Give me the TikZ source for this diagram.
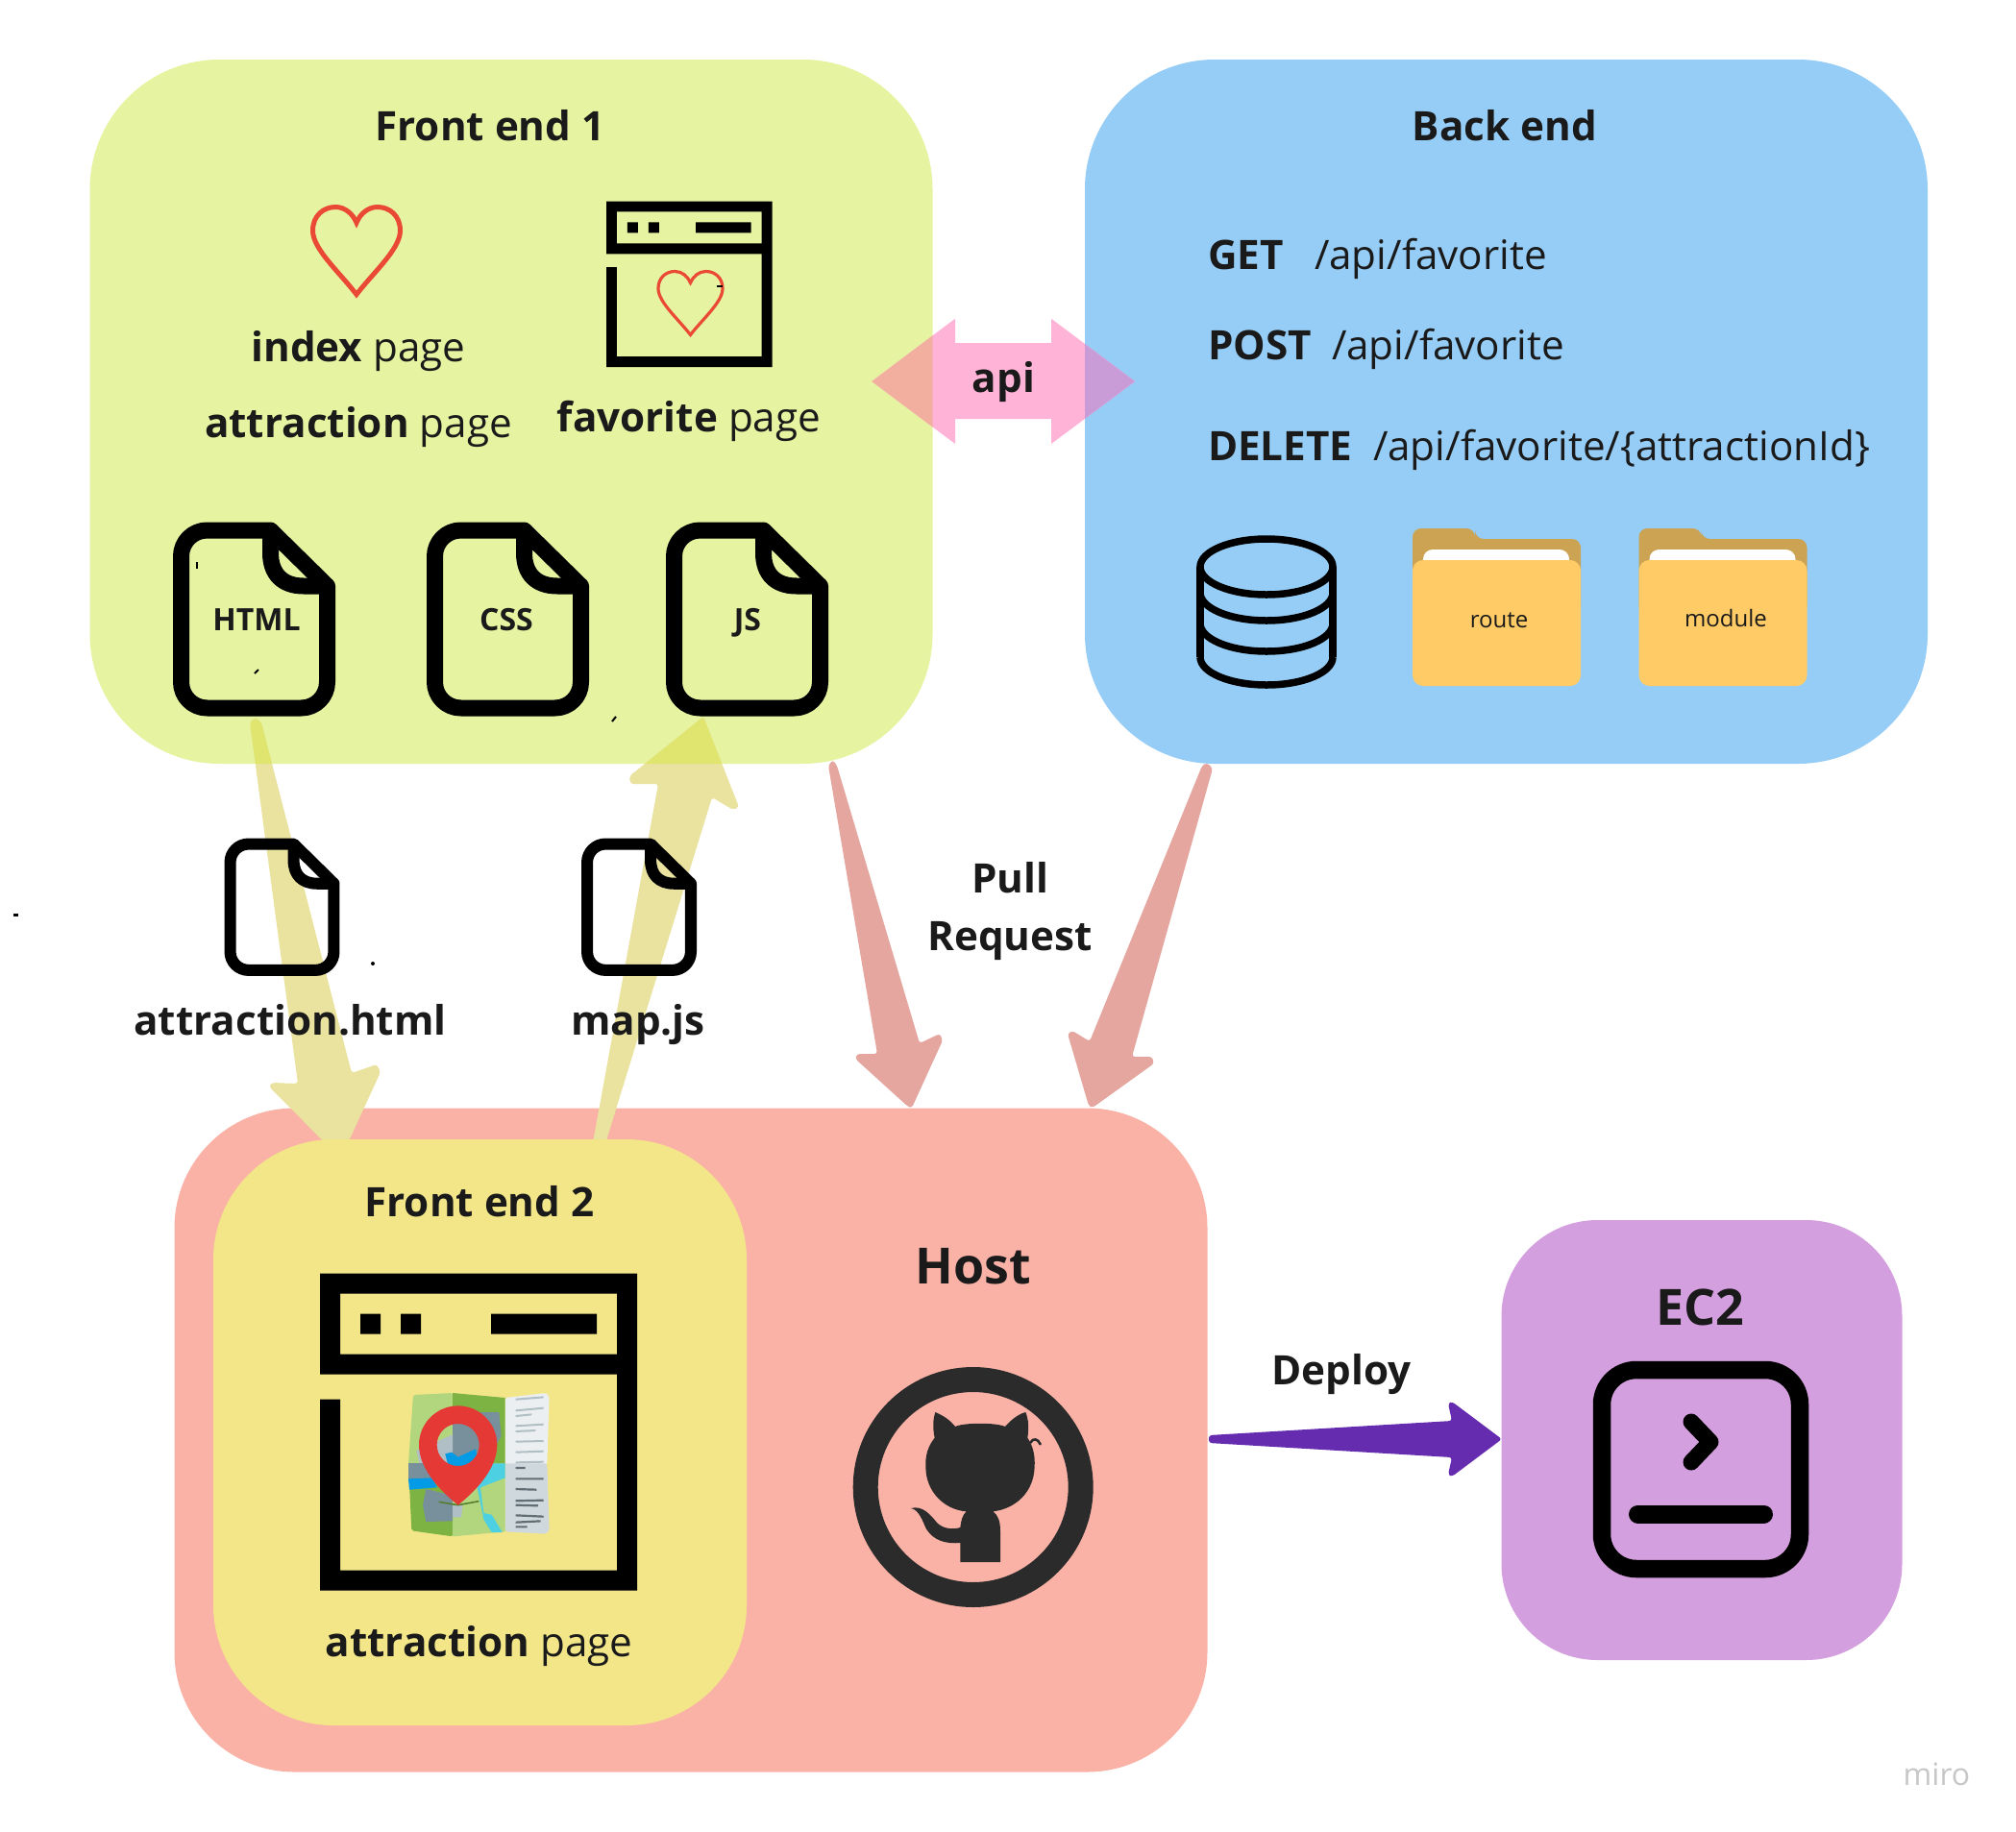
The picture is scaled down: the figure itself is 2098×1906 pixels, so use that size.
\documentclass[tikz,border=0pt]{standalone}
\usepackage{fontspec}
\setmainfont{Open Sans}
\definecolor{boxgreen}{HTML}{E6F3A0}
\definecolor{boxblue}{HTML}{96CDF6}
\definecolor{boxhost}{HTML}{FAB2A6}
\definecolor{boxfront}{HTML}{F2E689}
\definecolor{boxec}{HTML}{D49FDE}
\definecolor{khaki}{HTML}{EAE39F}
\definecolor{khakigreen}{HTML}{DFE56F}
\definecolor{salmon}{HTML}{E5A6A0}
\definecolor{apipink}{HTML}{FFB3D7}
\definecolor{apigreen}{HTML}{F2AFA0}
\definecolor{apiblue}{HTML}{C99CD8}
\definecolor{deploypurple}{HTML}{652CB0}
\definecolor{inkdark}{HTML}{1A1A1A}
\definecolor{heartred}{HTML}{EA4A35}
\definecolor{pinred}{HTML}{E53935}
\definecolor{gitdark}{HTML}{2B2B2B}
\definecolor{folderback}{HTML}{CBA352}
\definecolor{folderfront}{HTML}{FFCB66}
\definecolor{mapl}{HTML}{B2D67E}
\definecolor{mapd}{HTML}{7CB342}
\definecolor{mapg}{HTML}{78909C}
\definecolor{maplg}{HTML}{B0BEC5}
\definecolor{mapb}{HTML}{039BE5}
\definecolor{mapc}{HTML}{4DD0E1}
\definecolor{mapp}{HTML}{ECEFF1}
\definecolor{mapq}{HTML}{CFD8DC}
\definecolor{mapt}{HTML}{B0BEC5}
\definecolor{maps}{HTML}{616E75}
\tikzset{
  panel/.style={inner sep=0pt,outer sep=0pt,draw=none},
  label/.style={inner sep=0pt,outer sep=0pt,text=inkdark,anchor=base,font=\fontsize{42.2}{50}\selectfont},
  labelw/.style={label,anchor=base west},
  small/.style={label,font=\fontsize{32}{38}\selectfont},
  tiny/.style={label,font=\fontsize{24}{30}\selectfont},
  big/.style={label,font=\fontsize{52}{62}\selectfont},
  blockarrow/.style={rounded corners=3pt}
}
\newcommand{\windowicon}[3]{%
  \begin{scope}[shift={(#1,#2)},scale=#3]
    \fill[black,even odd rule] (0,0)--(330,0)--(330,330)--(0,330)--(0,131)--(21,131)--(21,309)--(309,309)--(309,105)--(0,105)--cycle
      (21,21)--(309,21)--(309,84)--(21,84)--cycle;
    \fill[black] (42,42) rectangle (63,63) (84,42) rectangle (105,63) (178,42) rectangle (288,63);
  \end{scope}}
\newcommand{\hearticon}[5]{%
  \begin{scope}[shift={(#1,#2)},xscale=#3,yscale=#4]
    \draw[heartred,line width=#5pt,line join=miter]
      (0.5,1) .. controls (0.3,0.74) and (0,0.48) .. (0,0.27)
      .. controls (0,0.1) and (0.12,0) .. (0.26,0)
      .. controls (0.37,0) and (0.46,0.08) .. (0.5,0.18)
      .. controls (0.54,0.08) and (0.63,0) .. (0.74,0)
      .. controls (0.88,0) and (1,0.1) .. (1,0.27)
      .. controls (1,0.48) and (0.7,0.74) .. (0.5,1) -- cycle;
  \end{scope}}
\newcommand{\fileicon}[3]{%
  \pgfmathsetlengthmacro{\filelw}{17pt*#3}%
  \pgfmathsetlengthmacro{\filerc}{27pt*#3}%
  \begin{scope}[shift={(#1,#2)},scale=#3]
    \draw[black,line width=\filelw,line join=round]
      (101.5,8.5) [rounded corners=\filerc] -- (8.5,8.5) -- (8.5,193.5) -- (160.5,193.5) [sharp corners] -- (160.5,66.5) -- (101.5,8.5) -- cycle;
    \draw[black,line width=\filelw,line join=round]
      (101.5,8.5) -- (101.5,32) .. controls (101.5,54) and (114,66.5) .. (136,66.5) -- (160.5,66.5);
  \end{scope}}
\newcommand{\foldericon}[1]{%
  \begin{scope}[shift={(#1,0)}]
    \fill[folderback,rounded corners=9pt] (0,640) -- (0,550) -- (65,550) -- (65,561) -- (175,561) -- (175,640) -- cycle;
    \fill[folderback] (58,561) rectangle (80,570);
    \fill[white,rounded corners=10pt] (11,610) -- (11,572) -- (163,572) -- (163,610) -- cycle;
    \fill[folderfront,rounded corners=11pt] (0,583) rectangle (175,714);
  \end{scope}}
\def\arrowdown{(265.6,747) -- (272,752) -- (366,1117) -- (392,1108) -- (396,1116) -- (354.5,1206) -- (280,1131) -- (283,1127) -- (310,1128) -- (260,752) -- cycle}
\def\arrowup{(732,746) -- (769,840) -- (763,843) -- (741,830) -- (628.6,1195) -- (616,1195) -- (685,816) -- (656,816) -- (655,808) -- cycle}
\def\apishape{(907.3,397) -- (994,331.7) -- (994,357) -- (1094,357) -- (1094,331.7) -- (1181,397) -- (1094,462) -- (1094,436) -- (994,436) -- (994,462) -- cycle}
\begin{document}
\begin{tikzpicture}[x=1pt,y=-1pt]
\useasboundingbox (0,0) rectangle (2098,1906);
\fill[white] (0,0) rectangle (2098,1906);

% panels
\node[panel,fill=boxgreen,rounded corners=135pt,minimum width=877pt,minimum height=733pt] (front1) at (532,428.5) {};
\node[panel,fill=boxblue,rounded corners=135pt,minimum width=877pt,minimum height=733pt] (back) at (1567.5,428.5) {};
\node[panel,fill=boxhost,rounded corners=125pt,minimum width=1075pt,minimum height=691pt] (host) at (719,1499) {};

% khaki arrows
\fill[khaki,blockarrow] \arrowdown;
\fill[khaki,blockarrow] \arrowup;
\begin{scope}
  \path[clip,rounded corners=135pt] (93.5,62) rectangle (970.5,795);
  \fill[khakigreen,blockarrow] \arrowdown;
  \fill[khakigreen,blockarrow] \arrowup;
\end{scope}

% salmon arrows
\fill[salmon,blockarrow] (866.7,791) -- (871,797) -- (957,1086) -- (978,1076) -- (981,1083) -- (949,1153) -- (945,1152) -- (890,1102) -- (892,1097) -- (913,1097) -- (862,797) -- cycle;
\fill[salmon,blockarrow] (1256,794) -- (1262,800) -- (1178,1100) -- (1199,1100) -- (1201,1107) -- (1137,1153) -- (1133,1151) -- (1111,1076) -- (1116,1073) -- (1134,1084) -- (1251,797) -- cycle;

% api arrow
\fill[apipink] \apishape;
\begin{scope}
  \path[clip,rounded corners=135pt] (93.5,62) rectangle (970.5,795);
  \fill[apigreen] \apishape;
\end{scope}
\begin{scope}
  \path[clip,rounded corners=135pt] (1129,62) rectangle (2006,795);
  \fill[apiblue] \apishape;
\end{scope}

% deploy arrow
\fill[deploypurple,blockarrow] (1258,1494) -- (1511,1479) -- (1507,1461) -- (1511,1459) -- (1563,1498) -- (1511,1537) -- (1507,1535) -- (1511,1517) -- (1258,1502) -- cycle;

% other panels
\node[panel,fill=boxfront,rounded corners=125pt,minimum width=555pt,minimum height=610pt] (front2) at (499.5,1491) {};
\node[panel,fill=boxec,rounded corners=100pt,minimum width=417pt,minimum height=458pt] (ec2) at (1771,1499) {};

% icons, front end 1
\hearticon{325.5}{215.5}{91}{91}{5}
\windowicon{631}{209.5}{0.523}
\hearticon{685}{282.5}{67}{66}{3.2}
\fileicon{180}{543.5}{1}
\fileicon{444}{543.5}{1}
\fileicon{693}{543.5}{1}
\fileicon{233.5}{872.5}{0.71}
\fileicon{605}{872.5}{0.71}

% database
\begin{scope}[black,line width=7.5pt]
  \draw (1318,590) ellipse [x radius=69,y radius=29];
  \draw (1249,590) -- (1249,684) (1387,590) -- (1387,684);
  \draw (1249,617) arc [start angle=180,end angle=0,x radius=69,y radius=29];
  \draw (1249,649) arc [start angle=180,end angle=0,x radius=69,y radius=29];
  \draw (1249,684) arc [start angle=180,end angle=0,x radius=69,y radius=29];
\end{scope}

% folders
\foldericon{1470}
\foldericon{1705.5}

% window with map
\windowicon{333}{1325.5}{1}
\begin{scope}[shift={(300,1300)},scale=0.33333]
  \fill[mapp,rounded corners=2pt] (677,465) -- (805,450) -- (815,460) -- (808,672) -- (677,672) -- cycle;
  \fill[mapq,rounded corners=2pt] (677,670) -- (808,670) -- (815,880) -- (805,890) -- (677,883) -- cycle;
  \fill[mapl,rounded corners=2pt] (390,456) -- (513,450) -- (513,672) -- (375,672) -- cycle;
  \fill[mapd] (513,450) -- (677,465) -- (677,672) -- (513,672) -- cycle;
  \fill[mapd,rounded corners=2pt] (375,670) -- (513,670) -- (513,898) -- (385,880) -- cycle;
  \fill[mapl] (513,670) -- (677,670) -- (677,883) -- (513,898) -- cycle;
  \fill[mapg] (513,510) -- (658,510) -- (665,585) -- (640,625) -- (513,660) -- cycle;
  \fill[maplg] (400,630) -- (513,580) -- (513,670) -- (410,670) -- cycle;
  \fill[mapg] (375,670) -- (513,670) -- (513,725) -- (375,725) -- cycle;
  \fill[mapg] (430,750) -- (513,770) -- (513,850) -- (430,852) -- (420,800) -- cycle;
  \fill[maplg] (513,800) -- (545,800) -- (540,838) -- (513,838) -- cycle;
  \fill[mapb] (375,718) -- (450,715) -- (465,745) -- (378,752) -- cycle;
  \fill[mapc] (590,745) -- (640,670) -- (677,670) -- (677,715) -- (600,745) -- (610,825) -- (635,830) -- (668,885) -- (635,885) -- (610,845) -- cycle;
  \fill[mapb] (490,640) -- (510,635) -- (530,650) -- (585,625) -- (590,650) -- (550,680) -- (500,680) -- cycle;
  \draw[mapt,line width=2pt] (710,470) -- (797,463) (710,505) -- (797,497) (710,522) -- (760,517) (710,553) -- (797,548) (710,570) -- (772,567) (710,602) -- (797,600) (710,635) -- (797,632) (710,667) -- (797,665);
  \draw[maps,line width=2.2pt] (710,684) -- (740,684) (710,718) -- (797,718) (710,750) -- (775,752) (710,787) -- (797,785) (710,800) -- (780,802) (710,832) -- (797,836) (710,854) -- (788,850) (710,868) -- (746,868);
  \draw[mapd!70!black,line width=1.6pt] (470,790) -- (530,800) -- (595,788);
  \fill[pinred,even odd rule]
    (530,800) .. controls (480,760) and (408,690) .. (408,612) .. controls (408,545) and (463,490) .. (530,490)
    .. controls (597,490) and (652,545) .. (652,612) .. controls (652,690) and (580,760) .. (530,800) -- cycle
    (530,612) circle [radius=66];
\end{scope}

% github
\draw[gitdark,line width=26pt] (1012.7,1548) circle [radius=112];
\begin{scope}[shift={(860,1380)},scale=0.33333]
  \fill[gitdark] (340,270) .. controls (365,280) and (388,296) .. (402,315)
    .. controls (430,302) and (530,302) .. (558,315)
    .. controls (575,295) and (600,275) .. (622,270)
    .. controls (632,295) and (632,320) .. (628,350)
    .. controls (645,375) and (652,405) .. (650,440)
    .. controls (648,520) and (590,572) .. (520,580)
    .. controls (535,590) and (543,610) .. (543,640)
    -- (543,738) -- (418,738) -- (418,678)
    .. controls (370,682) and (335,670) .. (312,635)
    .. controls (300,610) and (290,575) .. (264,570)
    .. controls (300,560) and (325,590) .. (345,615)
    .. controls (365,635) and (395,637) .. (418,630)
    .. controls (420,610) and (425,590) .. (437,580)
    .. controls (370,575) and (310,520) .. (310,440)
    .. controls (308,405) and (318,375) .. (338,350)
    .. controls (332,320) and (332,295) .. (340,270) -- cycle;
  \draw[gitdark,line width=2.6pt,line cap=round] (637,365) .. controls (645,350) and (660,352) .. (668,370);
\end{scope}

% terminal
\draw[black,line width=18.5pt,rounded corners=36pt] (1667,1426) rectangle (1873,1633);
\draw[black,line width=17pt,line cap=round,line join=round] (1760,1480) -- (1780,1501) -- (1760,1522);
\draw[black,line width=19pt,line cap=round] (1704.5,1576) -- (1835.5,1576);

% specks
\fill[black] (14,951) rectangle (19,954);
\fill[black] (203.5,585) rectangle (205.5,592);
\draw[black,line width=2pt] (265,701) -- (269,697);
\draw[black,line width=2pt] (637,751) -- (641,746);
\fill[black] (746,297) rectangle (752,299);
\fill[black] (388,1003) circle [radius=2];

% labels
\node[label] (t1) at (510,146.5) {\textbf{Front end 1}};
\node[label] (t2) at (1566,146.5) {\textbf{Back end}};
\node[label] (t3) at (373,376) {\textbf{index} page};
\node[label] (t4) at (373,455) {\textbf{attraction} page};
\node[label] (t5) at (717,449) {\textbf{favorite} page};
\node[small] (t6) at (267,656.5) {\textbf{HTML}};
\node[small] (t7) at (527,656.5) {\textbf{CSS}};
\node[small] (t8) at (778,656.5) {\textbf{JS}};
\node[label] (t9) at (302,1077) {\textbf{attraction.html}};
\node[label] (t10) at (664,1077) {\textbf{map.js}};
\node[label] (t11) at (1051,929.5) {\textbf{Pull}};
\node[label] (t12) at (1051,989) {\textbf{Request}};
\node[label] (t13) at (1044.5,408) {\textbf{api}};
\node[labelw] (t14) at (1257,280) {\textbf{GET}};
\node[labelw] (t15) at (1368,280) {/api/favorite};
\node[labelw] (t16) at (1257,374) {\textbf{POST}};
\node[labelw] (t17) at (1386,374) {/api/favorite};
\node[labelw] (t18) at (1257,479) {\textbf{DELETE}};
\node[labelw] (t19) at (1429,479) {/api/favorite/\{attractionId\}};
\node[tiny] (t20) at (1560,653.7) {route};
\node[tiny] (t21) at (1796,652.7) {module};
\node[label] (t22) at (499,1266) {\textbf{Front end 2}};
\node[big] (t23) at (1013,1336.5) {\textbf{Host}};
\node[label] (t24) at (498.5,1724) {\textbf{attraction} page};
\node[label] (t25) at (1396,1441) {\textbf{Deploy}};
\node[big] (t26) at (1769,1379) {\textbf{EC2}};
\node[small,text=black!22!white] (t27) at (2015.5,1858) {miro};
\end{tikzpicture}
\end{document}
